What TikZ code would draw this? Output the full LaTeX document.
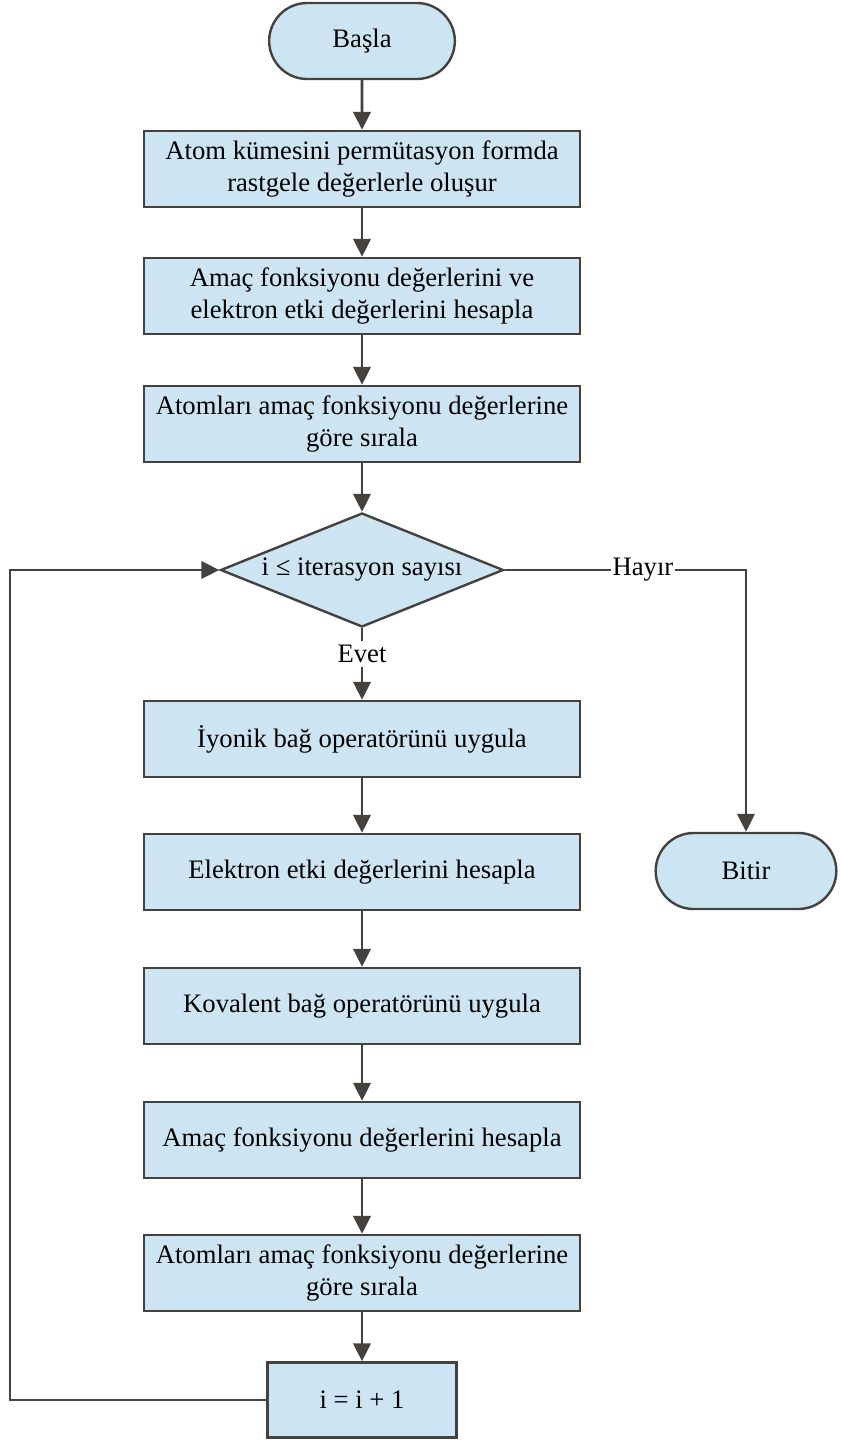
\documentclass[tikz,border=0pt]{standalone}
\usepackage{fontspec}
\setmainfont{Liberation Serif}
\usetikzlibrary{shapes.geometric,shapes.misc,arrows.meta}
\definecolor{boxfill}{HTML}{CDE4F2}
\definecolor{edge}{HTML}{44413E}
\begin{document}
\begin{tikzpicture}[x=0.75pt,y=-0.75pt,
  font=\fontsize{20pt}{24pt}\selectfont,
  base/.style={draw=edge,line width=1.8pt,fill=boxfill,align=center,inner sep=2pt},
  procbox/.style={base,rectangle,minimum width=327pt,minimum height=57pt},
  term/.style={base,rounded rectangle,minimum height=57pt},
  decide/.style={base,diamond,aspect=2.48,minimum width=212.25pt,minimum height=85.5pt,inner sep=0pt},
  lbl/.style={inner sep=1pt},
  conn/.style={draw=edge,line width=2pt},
  flow/.style={conn,-{Triangle[length=13.5pt,width=13pt]}}]
\useasboundingbox (0,0) rectangle (840,1441);

% main column
\node[term,minimum width=143.25pt] (basla) at (362,41) {Başla};
\node[procbox] (b1) at (362,169) {Atom kümesini permütasyon formda\\rastgele değerlerle oluşur};
\node[procbox] (b2) at (362,296) {Amaç fonksiyonu değerlerini ve\\elektron etki değerlerini hesapla};
\node[procbox] (b3) at (362,424) {Atomları amaç fonksiyonu değerlerine\\göre sırala};
\node[decide] (dec) at (362,570) {i ≤ iterasyon sayısı};
\node[inner sep=3pt] (evet) at (362,654) {Evet};
\node[procbox] (b4) at (362,739) {İyonik bağ operatörünü uygula};
\node[procbox] (b5) at (362,872) {Elektron etki değerlerini hesapla};
\node[procbox] (b6) at (362,1006) {Kovalent bağ operatörünü uygula};
\node[procbox] (b7) at (362,1140) {Amaç fonksiyonu değerlerini hesapla};
\node[procbox] (b8) at (362,1273) {Atomları amaç fonksiyonu değerlerine\\göre sırala};
\node[base,rectangle,minimum width=141.75pt,minimum height=56.25pt] (inc) at (362,1400) {i = i + 1};

% exit branch
\node[lbl] (hayir) at (643,570) {Hayır};
\node[term,minimum width=139.5pt] (bitir) at (746,871) {Bitir};

% loop-back corner
\coordinate (lp) at (10,1400);

% connectors
\draw[flow] (basla) -- (b1);
\draw[flow] (b1) -- (b2);
\draw[flow] (b2) -- (b3);
\draw[flow] (b3) -- (dec);
\draw[conn] (dec.south) -- (evet.north);
\draw[flow] (evet.south) -- (b4.north);
\draw[flow] (b4) -- (b5);
\draw[flow] (b5) -- (b6);
\draw[flow] (b6) -- (b7);
\draw[flow] (b7) -- (b8);
\draw[flow] (b8) -- (inc);
\draw[flow] (inc.west) -- (lp) |- (dec.west);
\draw[conn] (dec.east) -- (hayir.west);
\draw[flow] (hayir.east) -| (bitir.north);
\end{tikzpicture}
\end{document}
